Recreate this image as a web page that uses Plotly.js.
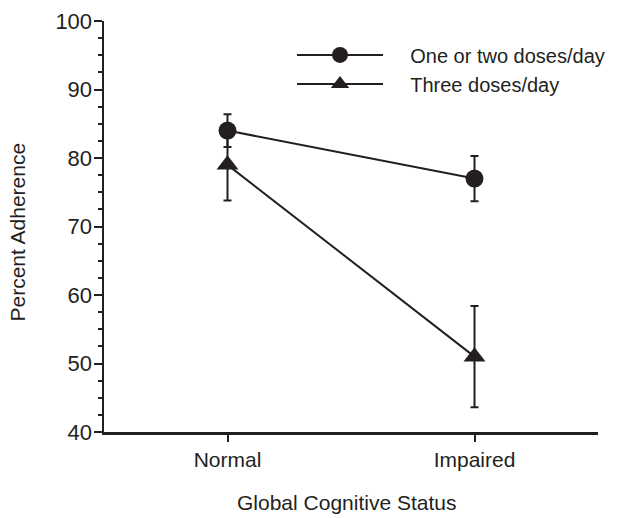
<!DOCTYPE html>
<html>
<head>
<meta charset="utf-8">
<script src="https://cdn.plot.ly/plotly-3.0.1.min.js"></script>
<style>html,body{margin:0;padding:0;background:#fff;}#chart{width:619px;height:518px;}</style>
</head>
<body>
<div id="chart"></div>
<script>
const categories = ["Normal", "Impaired"];
const seriesNames = ["One or two doses/day", "Three doses/day"];
const oneTwoDoses = [84.0, 77.0];
const oneTwoErr = [2.4, 3.3];
const threeDoses = [79.0, 51.0];
const threeErr = [5.2, 7.4];
const yTicks = [40, 50, 60, 70, 80, 90, 100];
const xTitle = "Global Cognitive Status";
const yTitle = "Percent Adherence";

const ink = "#231f20";
const font = "Liberation Sans, Arial, sans-serif";
const legendPad = "\u00a0\u00a0\u00a0\u00a0";

const traces = [
  {
    x: categories, y: oneTwoDoses, name: legendPad + seriesNames[0], type: "scatter", mode: "lines+markers",
    line: {color: ink, width: 2},
    marker: {symbol: "circle", size: 18, color: ink},
    error_y: {type: "data", array: oneTwoErr, visible: true, color: ink, thickness: 2, width: 4}
  },
  {
    x: categories, y: threeDoses, name: legendPad + seriesNames[1], type: "scatter", mode: "lines+markers",
    line: {color: ink, width: 2},
    marker: {symbol: "triangle-up", size: 19, color: ink},
    error_y: {type: "data", array: threeErr, visible: true, color: ink, thickness: 2, width: 4}
  }
];

const layout = {
  width: 619, height: 518,
  margin: {l: 104, r: 21, t: 21, b: 86, autoexpand: false},
  paper_bgcolor: "#fff", plot_bgcolor: "#fff",
  font: {family: font, color: ink, size: 21},
  showlegend: true,
  legend: {
    x: 0.3806, y: 0.965, xanchor: "left", yanchor: "top",
    bgcolor: "rgba(0,0,0,0)", itemwidth: 86,
    font: {family: font, size: 20, color: ink},
    tracegroupgap: 0
  },
  xaxis: {
    type: "category", range: [-0.5, 1.5],
    showline: true, linecolor: ink, linewidth: 2.5,
    ticks: "outside", ticklen: 7, tickwidth: 2, tickcolor: ink,
    showgrid: false, zeroline: false,
    tickfont: {family: font, size: 21, color: ink},
    fixedrange: true
  },
  yaxis: {
    range: [40, 100], tickvals: yTicks,
    showline: true, linecolor: ink, linewidth: 2.5,
    ticks: "outside", ticklen: 8, tickwidth: 2, tickcolor: ink,
    ticklabelstandoff: -3,
    minor: {dtick: 2.5, ticks: "outside", ticklen: 4, tickwidth: 2, tickcolor: ink, showgrid: false},
    showgrid: false, zeroline: false,
    tickfont: {family: font, size: 22, color: ink},
    fixedrange: true
  },
  annotations: [
    {text: xTitle, xref: "paper", yref: "paper", x: 0.49, y: 0, yanchor: "bottom", yshift: -84,
     showarrow: false, font: {family: font, size: 21, color: ink}},
    {text: yTitle, xref: "paper", yref: "paper", x: 0, xanchor: "center", xshift: -87, y: 0.5, yshift: -6,
     textangle: -90, showarrow: false, font: {family: font, size: 21, color: ink}}
  ]
};

Plotly.newPlot("chart", traces, layout, {displayModeBar: false, staticPlot: true});
</script>
</body>
</html>
